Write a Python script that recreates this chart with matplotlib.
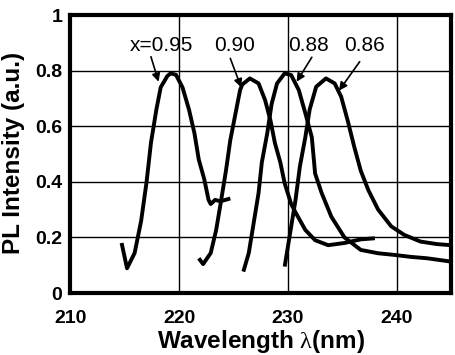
import matplotlib
matplotlib.use("Agg")
import matplotlib.pyplot as plt
import numpy as np

plt.rcParams['font.family'] = ['Liberation Sans', 'DejaVu Sans']
plt.rcParams['mathtext.fontset'] = 'custom'
plt.rcParams['mathtext.rm'] = 'Liberation Serif'

# Data (wavelength nm, PL intensity a.u.)
wl_095 = [214.7, 215.2, 215.9, 216.5, 217.0, 217.4, 217.9, 218.3, 218.9, 219.2, 219.7,
          220.3, 220.9, 221.4, 221.8, 222.3, 222.7, 222.9, 223.3, 223.8, 224.7]
pl_095 = [0.18, 0.089, 0.144, 0.26, 0.40, 0.54, 0.66, 0.74, 0.78, 0.79, 0.785,
          0.74, 0.66, 0.575, 0.48, 0.41, 0.335, 0.32, 0.335, 0.33, 0.34]

wl_090 = [221.8, 222.2, 222.9, 223.4, 223.8, 224.3, 224.7, 225.2, 225.6, 225.8, 226.5,
          227.3, 227.9, 228.4, 228.8, 229.3, 229.7, 230.3, 230.7, 231.6, 232.5, 233.7,
          235.2, 236.7, 238.0]
pl_090 = [0.125, 0.104, 0.144, 0.227, 0.32, 0.44, 0.55, 0.65, 0.73, 0.75, 0.772,
          0.754, 0.694, 0.62, 0.54, 0.47, 0.395, 0.32, 0.29, 0.227, 0.19, 0.172,
          0.18, 0.193, 0.197]

wl_088 = [225.9, 226.4, 226.8, 227.3, 227.6, 228.1, 228.5, 229.0, 229.7, 230.3, 231.0,
          231.6, 232.2, 232.5, 233.1, 234.0, 235.2, 236.7, 238.3, 239.8, 241.3, 242.8, 245.0]
pl_088 = [0.077, 0.144, 0.24, 0.36, 0.47, 0.575, 0.68, 0.754, 0.79, 0.784, 0.73,
          0.647, 0.56, 0.43, 0.36, 0.274, 0.20, 0.155, 0.143, 0.137, 0.13, 0.125, 0.113]

wl_086 = [229.7, 230.2, 230.7, 231.1, 231.6, 232.0, 232.6, 233.5, 234.3, 234.9, 235.5,
          236.1, 236.7, 237.4, 238.3, 239.5, 240.7, 242.2, 243.7, 245.0]
pl_086 = [0.095, 0.215, 0.335, 0.455, 0.56, 0.66, 0.742, 0.772, 0.754, 0.706, 0.62,
          0.526, 0.44, 0.37, 0.30, 0.24, 0.209, 0.185, 0.176, 0.172]

labels = ['x=0.95', '0.90', '0.88', '0.86']
label_x = [218.4, 225.1, 231.9, 237.0]
label_y = 0.892
arrow_from = [(217.4, 0.85), (224.7, 0.844), (232.2, 0.848), (236.6, 0.832)]
arrow_to = [(218.1, 0.76), (225.7, 0.74), (230.8, 0.76), (234.7, 0.728)]

fig = plt.figure(figsize=(4.56, 3.55), dpi=100)
ax = fig.add_axes([0.1546, 0.1746, 0.989 - 0.1546, 0.9577 - 0.1746])

for wl, pl in [(wl_095, pl_095), (wl_090, pl_090), (wl_088, pl_088), (wl_086, pl_086)]:
    ax.plot(wl, pl, color='black', lw=2.8, solid_capstyle='butt', solid_joinstyle='round')

for lab, lx, a0, a1 in zip(labels, label_x, arrow_from, arrow_to):
    ax.text(lx, label_y, lab, ha='center', va='center', fontsize=15, color='black')
    ax.annotate('', xy=a1, xytext=a0,
                arrowprops=dict(arrowstyle='-|>', color='black', lw=1.2,
                                mutation_scale=12, shrinkA=0, shrinkB=0))

ax.set_xlim(210, 245)
ax.set_ylim(0, 1)
ax.set_xticks([210, 220, 230, 240])
ax.set_yticks([0, 0.2, 0.4, 0.6, 0.8, 1])
ax.set_yticklabels(['0', '0.2', '0.4', '0.6', '0.8', '1'])
ax.grid(True, color='black', lw=1.0)
ax.set_axisbelow(True)
ax.tick_params(length=0, labelsize=14)
ax.tick_params(axis='x', pad=12)
ax.tick_params(axis='y', pad=6)
for t in ax.get_xticklabels() + ax.get_yticklabels():
    t.set_fontweight('bold')
for s in ax.spines.values():
    s.set_linewidth(3.0)

ax.set_xlabel(r'Wavelength $\mathrm{\lambda}$(nm)', fontsize=17.5, fontweight='bold')
ax.set_ylabel('PL Intensity (a.u.)', fontsize=17.5, fontweight='bold')
ax.xaxis.set_label_coords(0.5, -0.125)
ax.yaxis.set_label_coords(-0.12, 0.505)

fig.savefig('out.png', dpi=100)
